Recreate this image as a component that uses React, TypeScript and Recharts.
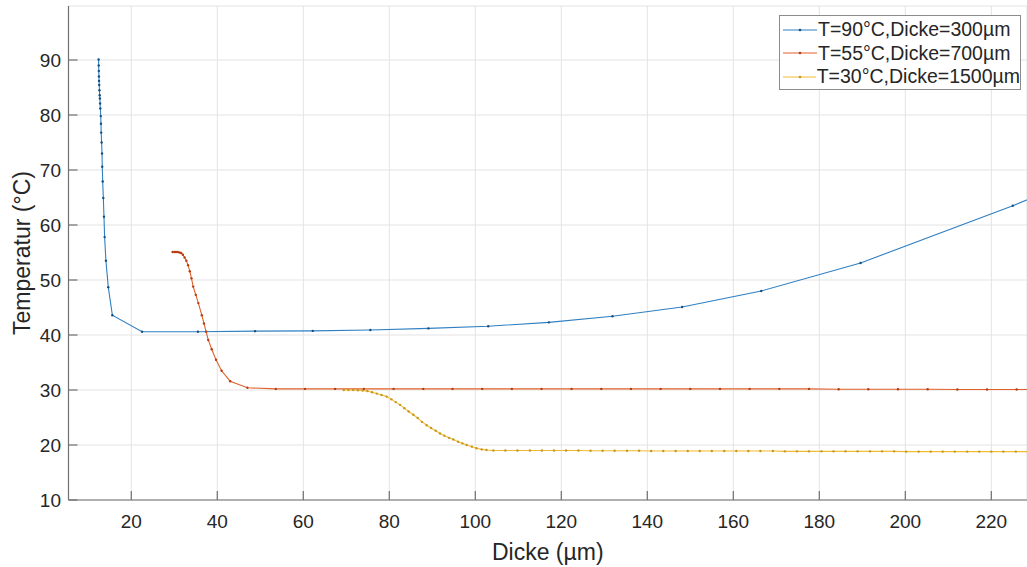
import {
  CartesianGrid,
  Legend,
  Line,
  LineChart,
  XAxis,
  YAxis,
} from "recharts";

const xTicks = [20, 40, 60, 80, 100, 120, 140, 160, 180, 200, 220];
const yTicks = [10, 20, 30, 40, 50, 60, 70, 80, 90];

const names = [
  "T=90°C,Dicke=300µm",
  "T=55°C,Dicke=700µm",
  "T=30°C,Dicke=1500µm",
];

const blueX = [
  12.4, 12.42, 12.45, 12.48, 12.5, 12.55, 12.6, 12.65, 12.7, 12.75, 12.8, 12.9,
  12.95, 13.0, 13.1, 13.2, 13.25, 13.35, 13.5, 13.65, 13.8, 14.1, 14.65, 15.6,
  22.5, 35.5, 48.8, 62.2, 75.6, 89.1, 103.0, 117.1, 131.9, 148.1, 166.5, 189.6,
  225.0, 245.0,
];
const blueY = [
  90.1, 89.0, 88.0, 87.0, 86.2, 85.45, 84.5, 83.6, 83.0, 82.1, 81.2, 79.8,
  78.4, 76.8, 75.0, 73.0, 70.6, 67.9, 64.9, 61.5, 57.8, 53.5, 48.7, 43.6,
  40.6, 40.6, 40.7, 40.75, 40.9, 41.2, 41.6, 42.3, 43.4, 45.1, 48.0, 53.1,
  63.5, 70.0,
];

const orangeX = [
  29.6, 30.0, 30.4, 30.8, 31.2, 31.6, 32.0, 32.4, 32.8, 33.2, 33.6, 34.0, 34.4,
  35.0, 35.6, 36.4, 36.9, 37.4, 37.9, 38.7, 39.7, 41.0, 43.0, 47.0, 53.6, 60.4,
  67.4, 74.1, 81.0, 87.9, 94.7, 101.6, 108.5, 115.4, 122.4, 129.3, 136.2,
  143.1, 150.0, 156.9, 163.8, 170.7, 177.6, 184.5, 191.4, 198.3, 205.2, 212.1,
  219.0, 225.9, 232.8,
];
const orangeY = [
  55.1, 55.1, 55.1, 55.1, 55.0, 54.9, 54.6, 54.1, 53.5, 52.7, 51.6, 50.3, 48.8,
  47.3, 45.8, 43.6, 42.1, 40.6, 39.1, 37.4, 35.5, 33.5, 31.6, 30.4, 30.2, 30.2,
  30.2, 30.2, 30.2, 30.2, 30.2, 30.2, 30.2, 30.2, 30.2, 30.2, 30.2,
  30.2, 30.2, 30.2, 30.2, 30.2, 30.2, 30.15, 30.15, 30.15, 30.15, 30.1,
  30.1, 30.1, 30.1,
];

const yellowX = [
  69.4, 70.5, 71.6, 72.7, 73.8, 74.9, 76.0, 77.1, 78.2, 79.4, 80.5, 81.5, 82.5,
  83.5, 84.5, 85.6, 86.6, 87.6, 88.7, 89.7, 90.8, 91.8, 92.8, 93.9, 94.9, 96.0,
  97.0, 98.0, 99.2, 100.3, 101.5, 102.6, 104.2, 107.0, 109.8, 112.7, 115.5,
  118.3, 121.1, 124.0, 126.8, 129.6, 132.4, 135.3, 138.1, 140.9, 143.7, 146.6,
  149.4, 152.2, 155.0, 157.9, 160.7, 163.5, 166.3, 169.2, 172.0, 174.8, 177.6,
  180.5, 183.3, 186.1, 188.9, 191.8, 194.6, 197.4, 200.2, 203.1, 205.9, 208.7,
  211.5, 214.4, 217.2, 220.0, 222.8, 225.7, 228.5,
];
const yellowY = [
  30.0, 30.0, 30.0, 29.95, 29.9, 29.8, 29.6, 29.35, 29.1, 28.8, 28.3, 27.8, 27.3,
  26.7, 26.1, 25.5, 24.9, 24.2, 23.6, 23.1, 22.6, 22.1, 21.7, 21.3, 21.0, 20.6,
  20.3, 20.0, 19.7, 19.4, 19.2, 19.1, 19.0, 19.0, 19.0, 19.0, 19.0,
  19.0, 19.0, 19.0, 18.95, 18.95, 18.95, 18.95, 18.95, 18.9, 18.9, 18.9,
  18.9, 18.9, 18.9, 18.9, 18.9, 18.9, 18.9, 18.9, 18.85, 18.85, 18.85,
  18.85, 18.85, 18.85, 18.85, 18.85, 18.85, 18.85, 18.8, 18.8, 18.8, 18.8,
  18.8, 18.8, 18.8, 18.8, 18.8, 18.8, 18.8,
];

const zip = (xs: number[], ys: number[]) => xs.map((x, i) => ({ x, y: ys[i] }));

const series = [
  { name: names[0], data: zip(blueX, blueY), line: "#2f7fc1", dot: "#14507f" },
  { name: names[1], data: zip(orangeX, orangeY), line: "#e0602a", dot: "#b83d12" },
  { name: names[2], data: zip(yellowX, yellowY), line: "#f0bc35", dot: "#c9961a" },
];

const FONT = "'Liberation Sans', Arial, Helvetica, sans-serif";
const TXT = "#262626";
const AX = "#707070";
const X_DOM: [number, number] = [5.4, 228.3];
const Y_DOM: [number, number] = [10, 99.82];

function YLabel({ viewBox }: any) {
  const x = viewBox.x + 30;
  const y = viewBox.y + viewBox.height / 2;
  return (
    <text x={x} y={y} transform={`rotate(-90 ${x} ${y})`} textAnchor="middle" fill={TXT} fontSize={23} fontFamily={FONT}>
      Temperatur (°C)
    </text>
  );
}

function LegendBox() {
  return (
    <div style={{ border: "1px solid #8c8c8c", background: "#fff", width: 242, height: 75, boxSizing: "border-box", padding: "2px 0 0 3px", fontFamily: FONT }}>
      {series.map((s) => (
        <div key={s.name} style={{ display: "flex", alignItems: "center", height: 23.5, fontSize: 19.5, color: TXT, whiteSpace: "nowrap" }}>
          <svg width={34} height={10} style={{ marginRight: 1 }}>
            <line x1={0} y1={5} x2={34} y2={5} stroke={s.line} strokeWidth={1} />
            <circle cx={17} cy={5} r={1.3} fill={s.dot} />
          </svg>
          {s.name}
        </div>
      ))}
    </div>
  );
}

export default function App() {
  return (
    <div style={{ position: "absolute", left: 0, top: 0, width: 1027, height: 567, background: "#fff" }}>
      <LineChart width={1027} height={567} margin={{ top: 6, right: 0, left: 0, bottom: 0 }}>
        <CartesianGrid stroke="#e3e3e3" strokeWidth={1} />
        <XAxis
          type="number"
          dataKey="x"
          domain={X_DOM}
          allowDataOverflow
          ticks={xTicks}
          height={67}
          tickSize={-9}
          tickMargin={24}
          stroke={AX}
          strokeWidth={1.2}
          tick={{ fill: TXT, fontSize: 19, fontFamily: FONT }}
          label={{ value: "Dicke (µm)", position: "insideBottom", offset: 7, fill: TXT, fontSize: 23, fontFamily: FONT }}
        />
        <XAxis
          xAxisId="top"
          orientation="top"
          type="number"
          dataKey="x"
          domain={X_DOM}
          allowDataOverflow
          ticks={xTicks}
          height={0}
          tickSize={-9}
          tickFormatter={() => ""}
          stroke={AX}
          strokeWidth={1.2}
        />
        <YAxis
          type="number"
          domain={Y_DOM}
          allowDataOverflow
          ticks={yTicks}
          width={68.5}
          tickSize={-9}
          tickMargin={16.5}
          stroke={AX}
          strokeWidth={1.2}
          tick={{ fill: TXT, fontSize: 19, fontFamily: FONT }}
          label={<YLabel />}
        />
        <YAxis
          yAxisId="r"
          orientation="right"
          type="number"
          domain={Y_DOM}
          allowDataOverflow
          ticks={yTicks}
          width={0}
          tickSize={-9}
          tickFormatter={() => ""}
          stroke={AX}
          strokeWidth={1.2}
        />
        <Legend
          layout="vertical"
          align="center"
          verticalAlign="middle"
          wrapperStyle={{ position: "absolute", left: 779, top: 15, width: 244 }}
          content={() => <LegendBox />}
        />
        {series.map((s) => (
          <Line
            key={s.name}
            data={s.data}
            dataKey="y"
            name={s.name}
            type="linear"
            stroke={s.line}
            strokeWidth={1.1}
            dot={{ r: 1.2, fill: s.dot, stroke: "none" }}
            activeDot={false}
            isAnimationActive={false}
          />
        ))}
      </LineChart>
    </div>
  );
}
